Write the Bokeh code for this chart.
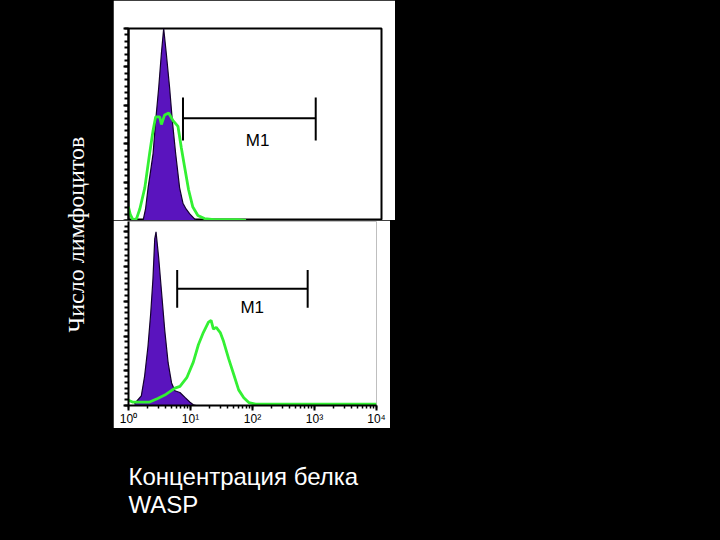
import math
from bokeh.plotting import figure
from bokeh.layouts import row, column
from bokeh.models import Range1d, SingleIntervalTicker, LogTicker, CustomJSTickFormatter
from bokeh.core.properties import value
from bokeh.embed import file_html
from bokeh.resources import INLINE

# ---------------- data ----------------
# fluorescence intensity (log axis, 10^0 .. 10^4) and relative cell counts
top_control_x = [1.70, 1.86, 2.04, 2.24, 2.45, 2.69, 3.00, 3.31, 3.60, 3.96, 4.47, 4.93, 5.56, 6.43, 7.26, 8.13, 9.23, 11.7]
top_control_y = [0, 6, 17, 26, 35, 52, 69, 87, 100, 87, 69, 52, 35, 17, 9, 6, 3.6, 0]

top_stain_x = [1.00, 1.07, 1.19, 1.34, 1.51, 1.81, 2.16, 2.45, 2.69, 3.11, 3.31, 3.73, 4.31, 5.06, 6.06, 6.83, 7.70, 8.91, 10.4, 12.5, 15.9, 22.6, 53.4, 72.0]
top_stain_y = [7, 3, 0, 1, 6, 17, 35, 47, 54, 54, 50, 55, 56, 52, 49, 38, 28, 16, 7, 2.6, 1, 0.5, 0.5, 0]

bot_control_x = [1.25, 1.61, 1.82, 2.06, 2.28, 2.48, 2.65, 2.78, 3.07, 3.40, 3.85, 4.36, 4.95, 5.60, 6.75, 8.14, 9.82, 11.1, 12.3]
bot_control_y = [1, 5.6, 17, 34, 53, 73, 96, 100, 85, 66, 43, 24.5, 13, 8.5, 7.5, 4.7, 1.9, 0.4, 0]

bot_stain_x = [1.00, 1.16, 2.19, 2.96, 3.85, 5.62, 6.76, 8.71, 11.1, 13.4, 16.1, 19.5, 21.5, 23.4, 26.0, 30.2, 34.1, 41.2, 49.7, 59.8, 72.3, 87.1, 112, 1000, 10000]
bot_stain_y = [3, 2, 2, 4, 6, 10, 11, 16, 25, 35, 42, 48, 49, 44, 45, 42, 37, 27, 18, 9, 4.5, 1.7, 0.8, 0.8, 0.8]

# M1 gate markers
m1_top_x = [7.27, 912]
m1_top_level = 53.3
m1_top_caps = [41.7, 64.0]
m1_top_label = [110, 41.9]

m1_bot_x = [6.1, 776]
m1_bot_level = 67.2
m1_bot_caps = [56.3, 78.0]
m1_bot_label = [99, 56.2]

y_title = "Число лимфоцитов"
x_title = ["Концентрация белка", "WASP"]

PURPLE = "#5a14be"
GREEN = "#33f033"
SANS = "Liberation Sans"


def histogram(width, height, ymax, left, right, top, bottom, show_x, outline):
    p = figure(width=width, height=height, x_axis_type="log",
               x_range=Range1d(1, 1e4), y_range=Range1d(0, ymax),
               x_axis_location="below" if show_x else None,
               output_backend="svg", toolbar_location=None,
               min_border_left=left, min_border_right=right,
               min_border_top=top, min_border_bottom=bottom)
    p.background_fill_color = "white"
    p.border_fill_color = "white"
    p.grid.visible = False
    if outline:
        p.outline_line_color = "black"
        p.outline_line_width = 2
    else:
        p.outline_line_color = None
    ya = p.yaxis[0]
    ya.ticker = SingleIntervalTicker(interval=20, num_minor_ticks=6)
    ya.formatter = CustomJSTickFormatter(code="return ''")
    ya.major_label_standoff = 0
    ya.axis_line_width = 2
    ya.major_tick_in = 0
    ya.major_tick_out = 5
    ya.minor_tick_in = 0
    ya.minor_tick_out = 4
    ya.major_tick_line_width = 2
    ya.minor_tick_line_width = 2
    if show_x:
        xa = p.xaxis[0]
        xa.ticker = LogTicker(num_minor_ticks=10)
        xa.formatter = CustomJSTickFormatter(code="""
            const sup = ['\u2070','\u00b9','\u00b2','\u00b3','\u2074'];
            const e = Math.round(Math.log10(tick));
            return '10' + sup[e];""")
        xa.axis_line_width = 2
        xa.major_tick_in = 0
        xa.major_tick_out = 5
        xa.minor_tick_in = 0
        xa.minor_tick_out = 3
        xa.major_tick_line_width = 2
        xa.minor_tick_line_width = 1.5
        xa.major_label_standoff = 1
        xa.major_label_text_font = SANS
        xa.major_label_text_font_size = "12px"
        xa.major_label_text_color = "black"
    return p


def draw(p, cx, cy, sx, sy, m1x, level, caps, lab):
    p.varea(x=cx, y1=0, y2=cy, fill_color=PURPLE)
    p.line(cx, cy, line_color="#14002e", line_width=1.2)
    p.line(sx, sy, line_color=GREEN, line_width=2.8)
    p.segment(x0=[m1x[0]], y0=[level], x1=[m1x[1]], y1=[level], line_color="black", line_width=2)
    p.segment(x0=m1x, y0=caps[0], x1=m1x, y1=caps[1], line_color="black", line_width=2)
    p.text(x=[lab[0]], y=[lab[1]], text=["M1"], text_align="center", text_baseline="middle",
           text_font=value(SANS), text_font_size="17px", text_color="black")


def black_panel(width, height):
    p = figure(width=width, height=height, x_range=Range1d(0, width), y_range=Range1d(0, height),
               x_axis_location=None, y_axis_location=None, output_backend="svg",
               toolbar_location=None, min_border_left=0, min_border_right=0,
               min_border_top=0, min_border_bottom=0)
    p.background_fill_color = "black"
    p.border_fill_color = "black"
    p.outline_line_color = None
    p.grid.visible = False
    return p


top = histogram(282, 220, 100, 14, 14, 28, 0, False, True)
draw(top, top_control_x, top_control_y, top_stain_x, top_stain_y,
     m1_top_x, m1_top_level, m1_top_caps, m1_top_label)

bot = histogram(277, 208, 106, 15, 14, 1, 20, True, False)
draw(bot, bot_control_x, bot_control_y, bot_stain_x, bot_stain_y,
     m1_bot_x, m1_bot_level, m1_bot_caps, m1_bot_label)

# left title panel (page x 0..113, y 0..428)
ylab = black_panel(113, 428)
ylab.text(x=[75], y=[194], text=[y_title], angle=math.pi / 2, text_align="center",
          text_baseline="middle", text_font=value("Liberation Serif"), text_font_size="24px",
          text_color="white")

# bottom title panel (page y 428..540)
xlab = black_panel(720, 112)
xlab.text(x=[128, 128], y=[64, 36], text=x_title, text_align="left", text_baseline="alphabetic",
          text_font=value(SANS), text_font_size="24px", text_color="white")

layout = column(row(ylab, column(top, bot)), xlab)

html = file_html(layout, INLINE)
html = html.replace("</head>",
                    "<style>html, body { margin: 0 !important; padding: 0 !important; "
                    "background-color: #000000 !important; overflow: hidden; }</style>\n</head>", 1)
open("out.html", "w").write(html)
